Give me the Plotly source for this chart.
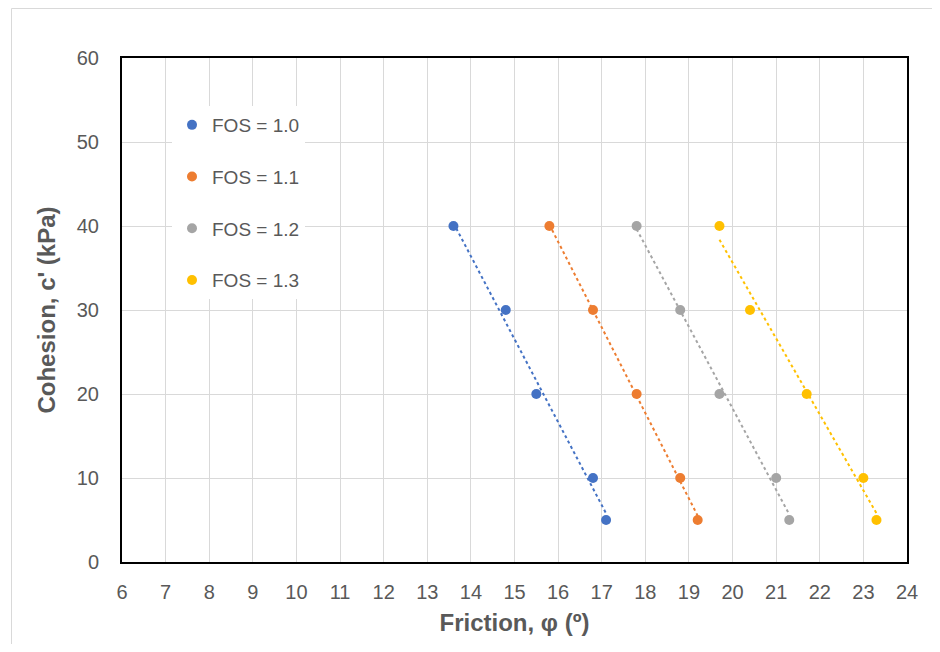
import numpy as np
import plotly.graph_objects as go

cohesion = [40, 30, 20, 10, 5]
phi_fos10 = [13.6, 14.8, 15.5, 16.8, 17.1]
phi_fos11 = [15.8, 16.8, 17.8, 18.8, 19.2]
phi_fos12 = [17.8, 18.8, 19.7, 21.0, 21.3]
phi_fos13 = [19.7, 20.4, 21.7, 23.0, 23.3]
names = ["FOS = 1.0", "FOS = 1.1", "FOS = 1.2", "FOS = 1.3"]
colors = ["#4472C4", "#ED7D31", "#A5A5A5", "#FFC000"]
x_ticks = list(range(6, 25))
y_ticks = list(range(0, 61, 10))

OFF = 8  # page body margin
W, H = 924, 636
L, T = 122 - OFF, 58 - OFF
R = W - (907 - OFF)
B = H - (562 - OFF)

fig = go.Figure()
for i, (xs, name, col) in enumerate(zip([phi_fos10, phi_fos11, phi_fos12, phi_fos13], names, colors)):
    xs_a = np.array(xs)
    ys_a = np.array(cohesion)
    m, b = np.polyfit(xs_a, ys_a, 1)
    xl = np.array([xs_a.min(), xs_a.max()])
    fig.add_trace(go.Scatter(x=xl, y=m * xl + b, mode="lines",
                             line=dict(color=col, width=2, dash="dot"),
                             showlegend=False, hoverinfo="skip"))
    fig.add_trace(go.Scatter(x=xs, y=cohesion, mode="markers", name=name,
                             legendgroup=f"g{i}",
                             marker=dict(color=col, size=10)))

FONT = "Liberation Sans, Arial"
axis_common = dict(showgrid=True, gridcolor="#D9D9D9", gridwidth=1,
                   zeroline=False, showline=True, linecolor="black", linewidth=2,
                   mirror=True, ticks="outside", tickcolor="rgba(0,0,0,0)",
                   tickfont=dict(family=FONT, size=20, color="#595959"))

fig.update_xaxes(range=[6, 24], tickvals=x_ticks, ticklen=11, **axis_common,
                 title=dict(text="<b>Friction, φ (º)</b>", standoff=12,
                            font=dict(family=FONT, size=24, color="#595959")))
fig.update_yaxes(range=[0, 60], tickvals=y_ticks, ticklen=17, **axis_common,
                 title=dict(text="<b>Cohesion, c' (kPa)</b>", standoff=14,
                            font=dict(family=FONT, size=24, color="#595959")))

pw = W - L - R
ph = H - T - B
fig.add_shape(type="rect", xref="paper", yref="paper",
              x0=(3.5 - L) / pw, x1=(W + 20 - L) / pw,
              y0=(H - B - (H + 20)) / ph, y1=(H - B - 0.5) / ph,
              line=dict(color="#D9D9D9", width=1), layer="below")

fig.update_layout(
    width=W, height=H,
    margin=dict(l=L, r=R, t=T, b=B),
    paper_bgcolor="white", plot_bgcolor="white",
    legend=dict(x=(172 - OFF - L) / pw, y=(H - B - (106 - OFF)) / ph,
                xanchor="left", yanchor="top",
                bgcolor="white", tracegroupgap=24,
                font=dict(family=FONT, size=19, color="#595959"),
                itemwidth=30),
)

fig.write_html("out.html")
